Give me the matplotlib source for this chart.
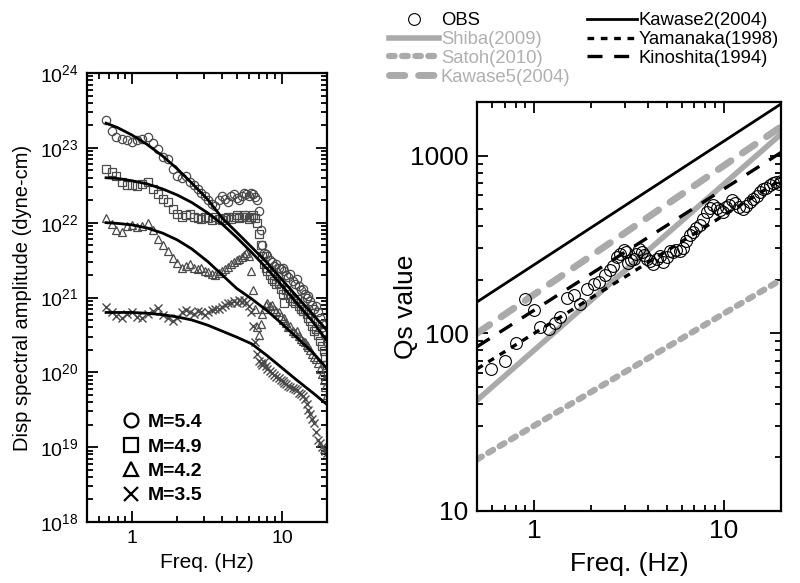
import matplotlib
matplotlib.use("Agg")
import matplotlib.pyplot as plt
from matplotlib.lines import Line2D
from matplotlib.ticker import LogLocator, NullFormatter, FixedLocator, FixedFormatter

plt.rcParams['font.family'] = ['Liberation Sans', 'DejaVu Sans']
plt.rcParams['mathtext.default'] = 'regular'

# ---- left panel: source spectra (log10 amplitude, dyne-cm) ----
freq_spec = [0.67, 0.73, 0.78, 0.85, 0.92, 1.0, 1.08, 1.17, 1.27, 1.37, 1.48, 1.6, 1.73, 1.87,
             2.0, 2.15, 2.3, 2.45, 2.6, 2.75, 2.9, 3.05, 3.2, 3.4, 3.6, 3.8, 4.0, 4.2, 4.4, 4.6,
             4.8, 5.0, 5.2, 5.4, 5.6, 5.8, 6.0, 6.2, 6.4, 6.6, 6.8, 7.0, 7.2, 7.4, 7.6, 7.8, 8.0,
             8.3, 8.6, 8.9, 9.2, 9.5, 9.8, 10.1, 10.4, 10.7, 11.0, 11.4, 11.8, 12.2, 12.6, 13.0,
             13.4, 13.8, 14.2, 14.6, 15.0, 15.5, 16.0, 16.5, 17.0, 17.5, 18.0, 18.5, 19.0, 19.5, 20.0]

amp_m54 = [23.37, 23.22, 23.15, 23.12, 23.10, 23.08, 23.10, 23.12, 23.14, 23.06, 22.98, 22.88, 22.85, 22.72,
           22.62, 22.60, 22.62, 22.55, 22.50, 22.45, 22.40, 22.36, 22.30, 22.25, 22.22, 22.30, 22.36, 22.32, 22.28, 22.35,
           22.38, 22.33, 22.30, 22.36, 22.40, 22.38, 22.35, 22.40, 22.38, 22.34, 22.30, 22.15, 21.90, 21.70, 21.60, 21.58, 21.55,
           21.50, 21.48, 21.42, 21.45, 21.40, 21.38, 21.40, 21.35, 21.30, 21.28, 21.32, 21.22, 21.18, 21.25, 21.15,
           21.10, 21.12, 21.05, 21.00, 21.02, 20.95, 20.90, 20.85, 20.88, 20.80, 20.72, 20.65, 20.55, 20.50, 20.40]

amp_m49 = [22.72, 22.68, 22.62, 22.55, 22.50, 22.50, 22.49, 22.52, 22.54, 22.45, 22.38, 22.32, 22.27, 22.18,
           22.12, 22.08, 22.10, 22.12, 22.08, 22.06, 22.05, 22.08, 22.06, 22.04, 22.07, 22.05, 22.03, 22.06, 22.08, 22.05,
           22.08, 22.10, 22.06, 22.08, 22.10, 22.07, 22.05, 22.08, 22.10, 22.06, 22.00, 21.85, 21.70, 21.55, 21.45, 21.40, 21.35,
           21.30, 21.25, 21.22, 21.18, 21.20, 21.12, 21.05, 20.93, 21.10, 21.05, 21.00, 20.95, 20.92, 20.98, 20.88,
           20.85, 20.82, 20.85, 20.78, 20.72, 20.68, 20.62, 20.55, 20.58, 20.50, 20.42, 20.35, 20.28, 20.20, 20.10]

amp_m42 = [22.06, 21.98, 21.90, 21.87, 21.95, 21.97, 21.94, 21.96, 22.00, 21.90, 21.78, 21.70, 21.62, 21.53,
           21.46, 21.40, 21.42, 21.45, 21.40, 21.38, 21.40, 21.36, 21.34, 21.32, 21.30, 21.33, 21.36, 21.38, 21.41, 21.45,
           21.48, 21.50, 21.52, 21.54, 21.57, 21.60, 21.55, 21.35, 21.10, 20.85, 20.60, 20.50, 20.65, 20.78, 20.85, 20.90, 20.92,
           20.88, 20.90, 20.85, 20.82, 20.80, 20.75, 20.70, 20.72, 20.66, 20.60, 20.62, 20.55, 20.52, 20.55, 20.48,
           20.45, 20.42, 20.40, 20.36, 20.34, 20.30, 20.25, 20.20, 20.18, 20.12, 20.05, 19.98, 19.90, 19.80, 19.70]

amp_m35 = [20.87, 20.80, 20.75, 20.72, 20.78, 20.80, 20.74, 20.72, 20.78, 20.82, 20.86, 20.76, 20.72, 20.68,
           20.72, 20.80, 20.83, 20.80, 20.78, 20.82, 20.80, 20.76, 20.80, 20.83, 20.85, 20.84, 20.87, 20.90, 20.93, 20.92,
           20.95, 20.93, 20.96, 20.94, 20.97, 20.92, 20.88, 20.80, 20.62, 20.40, 20.25, 20.15, 20.12, 20.10, 20.14, 20.08, 20.05,
           20.02, 19.99, 19.96, 19.94, 19.92, 19.90, 19.88, 19.86, 19.84, 19.82, 19.80, 19.79, 19.78, 19.76, 19.73,
           19.71, 19.68, 19.64, 19.58, 19.50, 19.44, 19.38, 19.32, 19.20, 19.10, 19.05, 19.00, 18.98, 18.95, 18.92]

# model curves
freq_fit = [0.67, 0.8, 1.0, 1.25, 1.6, 2.0, 2.5, 3.2, 4.0, 5.0, 6.3, 8.0, 10, 12.5, 16, 20]
fit_m54 = [23.33, 23.27, 23.17, 23.05, 22.89, 22.72, 22.53, 22.31, 22.06, 21.87, 21.67, 21.46, 21.24, 21.02, 20.78, 20.56]
fit_m49 = [22.60, 22.59, 22.56, 22.52, 22.45, 22.37, 22.27, 22.13, 21.98, 21.80, 21.60, 21.38, 21.16, 20.93, 20.68, 20.42]
fit_m42 = [22.00, 21.99, 21.97, 21.93, 21.86, 21.77, 21.65, 21.48, 21.30, 21.12, 20.98, 20.82, 20.65, 20.47, 20.27, 20.05]
fit_m35 = [20.80, 20.80, 20.80, 20.79, 20.77, 20.74, 20.70, 20.63, 20.55, 20.47, 20.38, 20.22, 20.06, 19.90, 19.73, 19.57]

mag_labels = ['M=5.4', 'M=4.9', 'M=4.2', 'M=3.5']

# ---- right panel: Qs ----
obs_f = [0.59, 0.70, 0.80, 0.90, 1.0, 1.07, 1.2, 1.29, 1.37, 1.49, 1.62, 1.74, 1.89, 2.06, 2.21, 2.35,
         2.5, 2.62, 2.72, 2.85, 2.96, 3.05, 3.14, 3.25, 3.34, 3.45, 3.59, 3.7, 3.8, 3.95, 4.1, 4.25,
         4.45, 4.6, 4.8, 5.0, 5.2, 5.4, 5.6, 5.85, 6.1, 6.35, 6.6, 6.85, 7.1, 7.5, 7.8, 8.1, 8.4,
         8.8, 9.2, 9.5, 9.9, 10.3, 10.7, 11.1, 11.5, 12.0, 12.6, 13.1, 13.7, 14.3, 14.9, 15.5, 16.0,
         16.6, 17.4, 18.1, 18.9, 19.6, 20.0]
obs_q = [63, 70, 88, 155, 136, 109, 105, 114, 124, 157, 164, 147, 178, 190, 195, 213,
         228, 240, 268, 280, 293, 285, 247, 258, 263, 280, 298, 285, 275, 262, 255, 245,
         263, 272, 252, 268, 290, 285, 295, 290, 300, 330, 355, 372, 390, 405, 440, 480, 505,
         525, 505, 495, 480, 510, 525, 565, 540, 515, 500, 520, 545, 570, 595, 620, 645,
         660, 680, 700, 705, 690, 720]

line_f = [0.5, 20]
q_kawase2 = [150, 1950]
q_kawase5 = [100, 1450]
q_shiba = [42, 1320]
q_satoh = [19.5, 200]
q_yamanaka = [63, 730]
q_kinoshita = [84, 1040]

GRAY = '#aaaaaa'
MK = '#4a4a4a'

fig = plt.figure(figsize=(8, 5.83), dpi=100)

def style_axes(ax, lsize):
    ax.tick_params(which='both', direction='in', top=True, right=True, width=1.3)
    ax.tick_params(which='major', length=8, labelsize=lsize, pad=6)
    ax.tick_params(which='minor', length=4)
    for s in ax.spines.values():
        s.set_linewidth(1.6)

# left
ax1 = fig.add_axes([87/800, 1-522/583, 240/800, 449/583])
ax1.set_xscale('log')
ax1.set_yscale('log')
ax1.set_xlim(0.5, 20)
ax1.set_ylim(1e18, 1e24)
series = [(amp_m54, 'o'), (amp_m49, 's'), (amp_m42, '^'), (amp_m35, 'x')]
for amp, mk in series:
    vals = [10 ** a for a in amp]
    if mk == 'x':
        ax1.plot(freq_spec, vals, ls='none', marker=mk, ms=6, mew=1.0, color=MK)
    else:
        ax1.plot(freq_spec, vals, ls='none', marker=mk, ms=6, mew=0.9, mfc='none', mec=MK)
for fit in [fit_m54, fit_m49, fit_m42, fit_m35]:
    ax1.plot(freq_fit, [10 ** a for a in fit], color='black', lw=2)
ax1.yaxis.set_major_locator(LogLocator(base=10, numticks=10))
ax1.yaxis.set_minor_locator(LogLocator(base=10, subs=range(2, 10), numticks=20))
ax1.yaxis.set_minor_formatter(NullFormatter())
ax1.xaxis.set_major_locator(FixedLocator([1, 10]))
ax1.xaxis.set_major_formatter(FixedFormatter(['1', '10']))
ax1.xaxis.set_minor_locator(LogLocator(base=10, subs=range(2, 10), numticks=20))
ax1.xaxis.set_minor_formatter(NullFormatter())
style_axes(ax1, 14)
ax1.set_xlabel('Freq. (Hz)', fontsize=15, labelpad=4)
ax1.set_ylabel('Disp spectral amplitude (dyne-cm)', fontsize=14.5, labelpad=6)
handles = [Line2D([], [], ls='none', marker=m, ms=10, mew=1.6, mfc='none', mec='black', color='black')
           for m in ['o', 's', '^', 'x']]
leg1 = ax1.legend(handles, mag_labels, loc='lower left', bbox_to_anchor=(0.06, 0.0), frameon=False,
                  fontsize=14, handletextpad=0.3, labelspacing=0.35, handlelength=1.2)
for t in leg1.get_texts():
    t.set_fontweight('bold')

# right
ax2 = fig.add_axes([477/800, 1-511/583, 304/800, 409/583])
ax2.set_xscale('log')
ax2.set_yscale('log')
ax2.set_xlim(0.5, 20)
ax2.set_ylim(10, 2000)
ax2.plot(line_f, q_satoh, color=GRAY, lw=4.5, dashes=(0.9, 1.2), dash_capstyle='round', label='Satoh(2010)')
ax2.plot(line_f, q_shiba, color=GRAY, lw=4.0, label='Shiba(2009)')
ax2.plot(line_f, q_kawase5, color=GRAY, lw=5.0, dashes=(2.2, 2.0), dash_capstyle='round', label='Kawase5(2004)')
ax2.plot(line_f, q_kinoshita, color='black', lw=2.4, dashes=(4.5, 3.5), label='Kinoshita(1994)')
ax2.plot(line_f, q_yamanaka, color='black', lw=2.4, dashes=(2.0, 2.0), label='Yamanaka(1998)')
ax2.plot(line_f, q_kawase2, color='black', lw=2.0, label='Kawase2(2004)')
ax2.plot(obs_f, obs_q, ls='none', marker='o', ms=8.5, mfc='none', mec='black', mew=0.8, label='OBS')
ax2.yaxis.set_major_locator(FixedLocator([10, 100, 1000]))
ax2.yaxis.set_major_formatter(FixedFormatter(['10', '100', '1000']))
ax2.yaxis.set_minor_locator(LogLocator(base=10, subs=range(2, 10), numticks=20))
ax2.yaxis.set_minor_formatter(NullFormatter())
ax2.xaxis.set_major_locator(FixedLocator([1, 10]))
ax2.xaxis.set_major_formatter(FixedFormatter(['1', '10']))
ax2.xaxis.set_minor_locator(LogLocator(base=10, subs=range(2, 10), numticks=20))
ax2.xaxis.set_minor_formatter(NullFormatter())
style_axes(ax2, 19)
ax2.set_xlabel('Freq. (Hz)', fontsize=19, labelpad=6)
ax2.set_ylabel('Qs value', fontsize=19, labelpad=-6)

hmap = {h.get_label(): h for h in ax2.get_lines()}
order = ['OBS', 'Shiba(2009)', 'Satoh(2010)', 'Kawase5(2004)', 'Kawase2(2004)', 'Yamanaka(1998)', 'Kinoshita(1994)']
leg2 = fig.legend([hmap[k] for k in order], order, ncol=2, loc='upper left',
                  bbox_to_anchor=(378/800, 0.998), frameon=False, fontsize=13.3,
                  handlelength=2.7, handletextpad=0.1, labelspacing=0.1, columnspacing=0.9,
                  borderaxespad=0.2)
for t in leg2.get_texts():
    if t.get_text() in ('Shiba(2009)', 'Satoh(2010)', 'Kawase5(2004)'):
        t.set_color('#b0b0b0')

fig.savefig('out.png', dpi=100)
